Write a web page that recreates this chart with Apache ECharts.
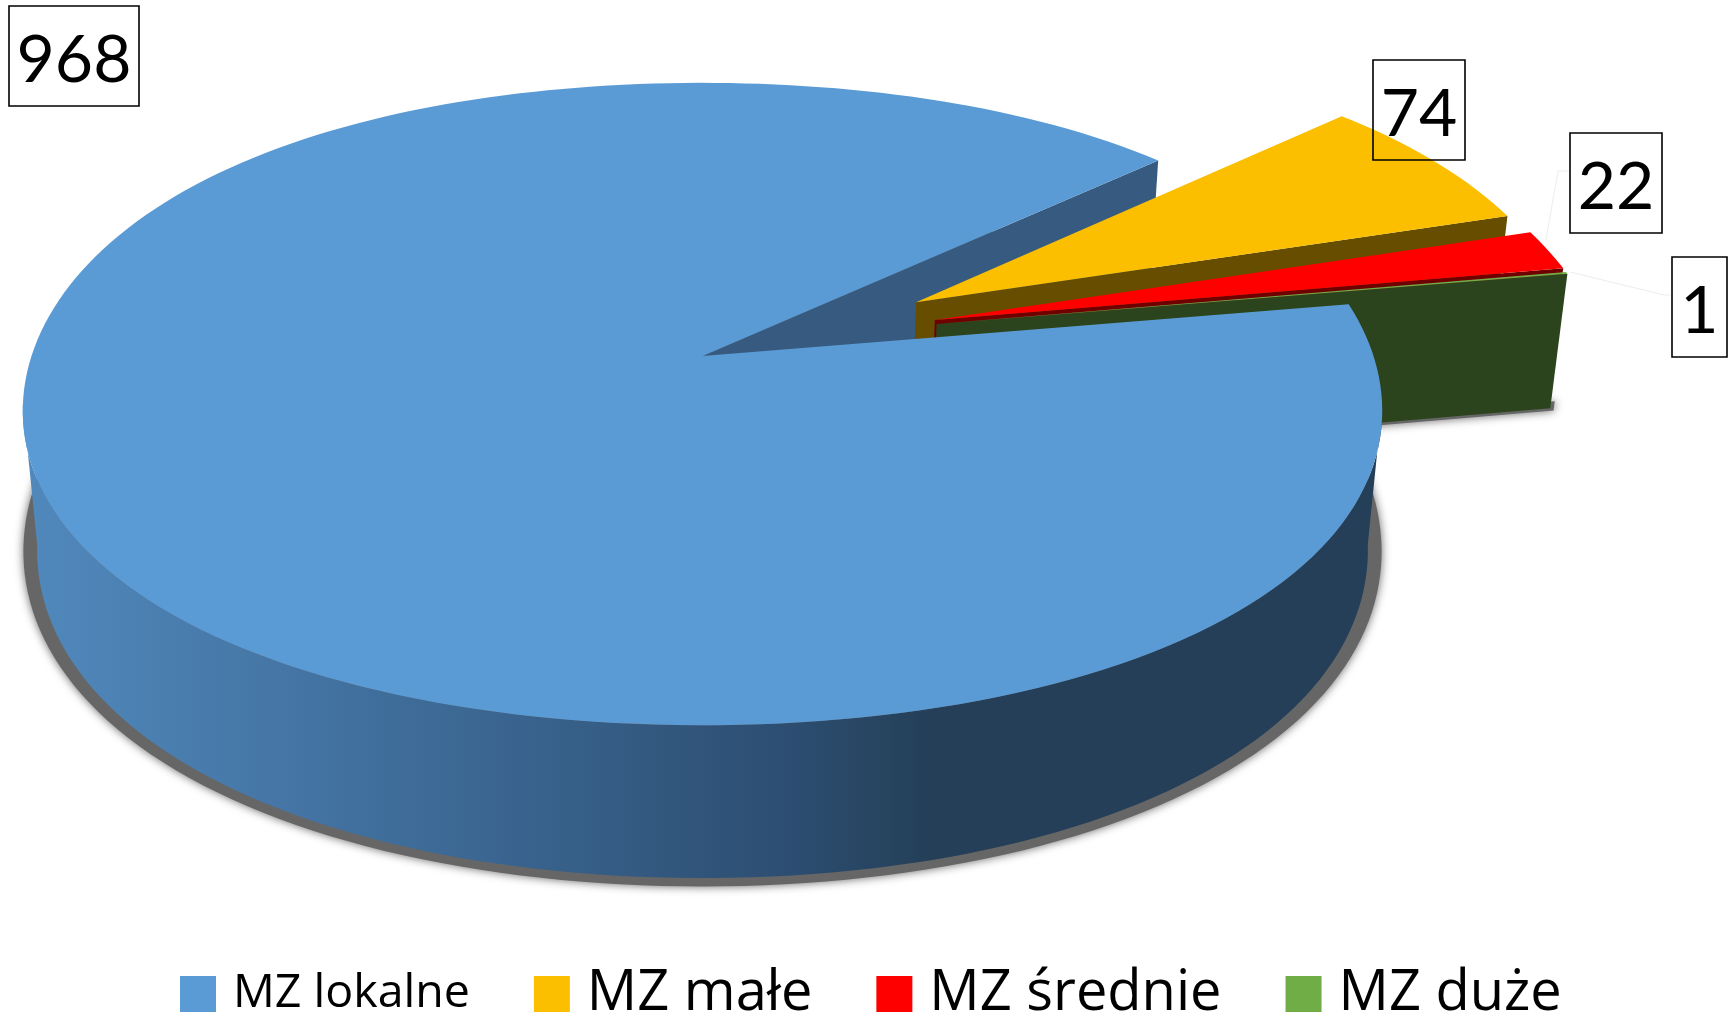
<!DOCTYPE html>
<html><head><meta charset="utf-8">
<style>html,body{margin:0;padding:0;background:#fff;overflow:hidden}#c{width:1728px;height:1015px}</style>
<script src="https://cdn.jsdelivr.net/npm/echarts@6/dist/echarts.min.js"></script>
</head><body><div id="c"></div>
<script>
const categories = ['MZ lokalne', 'MZ małe', 'MZ średnie', 'MZ duże'];
const values = [968, 74, 22, 1];
const colors = ['#5B9BD5', '#FBBF00', '#FF0000', '#70AD47'];
const wallColors = ['#375B80', '#664D00', '#700000', '#2C441D'];
const legendFontSizes = [46.5, 56, 56, 56];

// camera model of the tilted pie
const FIRST_ANGLE = 9.72, CX = 702.5, CY = 356, A = 671, B = 314, K = 0.1496, M = 0.021, H = 141;
const RAD = Math.PI / 180;
const TANGENT = Math.asin(K) / RAD;
const EXPLODE = [null, {e: .371, dir: 28.3}, {e: .371, dir: 18.3}, {e: .369, dir: 16.3}];
const LABEL_BOX = [[9, 6, 130, 100], [1373, 60, 92, 100], [1570, 133, 92, 100], [1672, 257, 55, 100]];
const LEADERS = [null, null, [[1570, 171], [1558, 171], [1546, 240]], [[1570, 272], [1664, 295], [1672, 295]]];

const total = values.reduce((s, x) => s + x, 0);
const spans = [];
(function () {
  let t = FIRST_ANGLE;
  values.forEach(function (x) { const d = x / total * 360; spans.push([t, t - d]); t -= d; });
})();

function project(u, v, z) {
  const w = 1 - K * v + M * z;
  return [CX + A * u / w, CY + (B * v + H * z) / w];
}
function off(i) {
  const ex = EXPLODE[i];
  return ex ? [ex.e * Math.cos(ex.dir * RAD), -ex.e * Math.sin(ex.dir * RAD)] : [0, 0];
}
function rimPoint(i, deg, z, extra) {
  const o = off(i), s2 = Math.sin(2 * deg * RAD);
  const q = 1 + 0.016 * s2 * s2 + (extra || 0);
  return project(o[0] + q * Math.cos(deg * RAD), o[1] - q * Math.sin(deg * RAD), z);
}
function arc(i, a0, a1, z, extra) {
  const n = Math.max(2, Math.ceil(Math.abs(a1 - a0) / 1.5)), pts = [];
  for (let j = 0; j <= n; j++) pts.push(rimPoint(i, a0 + (a1 - a0) * j / n, z, extra));
  return pts;
}
function poly(points, fill, z2, extra) {
  return {type: 'polygon', z2: z2, shape: {points: points}, style: Object.assign({fill: fill}, extra || {})};
}
function renderSlice(params) {
  const i = params.seriesIndex, o = off(i), s = spans[i], ch = [];
  const apexTop = project(o[0], o[1], 0), apexBot = project(o[0], o[1], 1);
  if (i === 0) {
    // soft shadow below the disc
    ch.push(poly(arc(0, 0, 360, 0.995, 0.02), '#666666', -5, {shadowColor: '#666666', shadowBlur: 10}));
    // cut face in the gap
    const back = s[1];
    ch.push(poly([apexTop, rimPoint(0, back, 0), rimPoint(0, back, 1), apexBot], wallColors[0], 0));
    // round wall between the two silhouette tangents
    const a0 = -TANGENT, a1 = -180 + TANGENT;
    const wall = arc(0, a0, a1, 0).concat(arc(0, a1, a0, 1));
    ch.push(poly(wall, {type: 'linear', x: 0, y: 0, x2: 1, y2: 0, colorStops: [
      {offset: 0, color: '#5189BD'}, {offset: .35, color: '#3A6590'},
      {offset: .57, color: '#2C4D70'}, {offset: .67, color: '#243F57'}, {offset: 1, color: '#243F57'}
    ]}, 10));
    ch.push(poly([apexTop].concat(arc(0, s[0], s[1], 0)), colors[0], 11));
  } else {
    const z = i * 2;
    if (i === 3) {
      ch.push(poly([project(o[0], o[1], 1.02), rimPoint(i, s[1], 1.02, 0.006), rimPoint(i, s[1], 0.95, 0.006), project(o[0], o[1], 0.95)],
        '#666666', z - 1, {shadowColor: '#666666', shadowBlur: 10}));
    }
    ch.push(poly([apexTop, rimPoint(i, s[1], 0), rimPoint(i, s[1], 1), apexBot], wallColors[i], z));
    ch.push(poly([apexTop].concat(arc(i, s[0], s[1], 0)), colors[i], z + 1));
  }
  const b = LABEL_BOX[i];
  if (LEADERS[i]) ch.push({type: 'polyline', z2: 19, shape: {points: LEADERS[i]}, style: {fill: null, stroke: '#EDEDED', lineWidth: 1}});
  ch.push({type: 'rect', z2: 20, shape: {x: b[0], y: b[1], width: b[2], height: b[3]},
    style: {fill: null, stroke: '#000', lineWidth: 1.6}});
  ch.push({type: 'text', z2: 21, x: b[0] + b[2] / 2, y: b[1] + b[3] / 2 + 5,
    style: {text: String(values[i]), fill: '#000', font: '66px Lato', align: 'center', verticalAlign: 'middle'}});
  return {type: 'group', children: ch};
}

const chart = echarts.init(document.getElementById('c'), null, {renderer: 'canvas'});
chart.setOption({
  animation: false,
  backgroundColor: '#fff',
  tooltip: {show: false},
  legend: {
    left: 180, bottom: -7, padding: 0, itemGap: 64, itemWidth: 36, itemHeight: 36, icon: 'rect',
    selectedMode: false,
    textStyle: {fontFamily: 'Open Sans', color: '#000', padding: [4, 0, 0, 12]},
    data: categories.map(function (c, i) { return {name: c, textStyle: {fontSize: legendFontSizes[i]}}; })
  },
  series: categories.map(function (c, i) {
    return {type: 'custom', name: c, coordinateSystem: 'none', silent: true, legendHoverLink: false,
      itemStyle: {color: colors[i]}, data: [values[i]], renderItem: renderSlice};
  })
});
</script></body></html>
